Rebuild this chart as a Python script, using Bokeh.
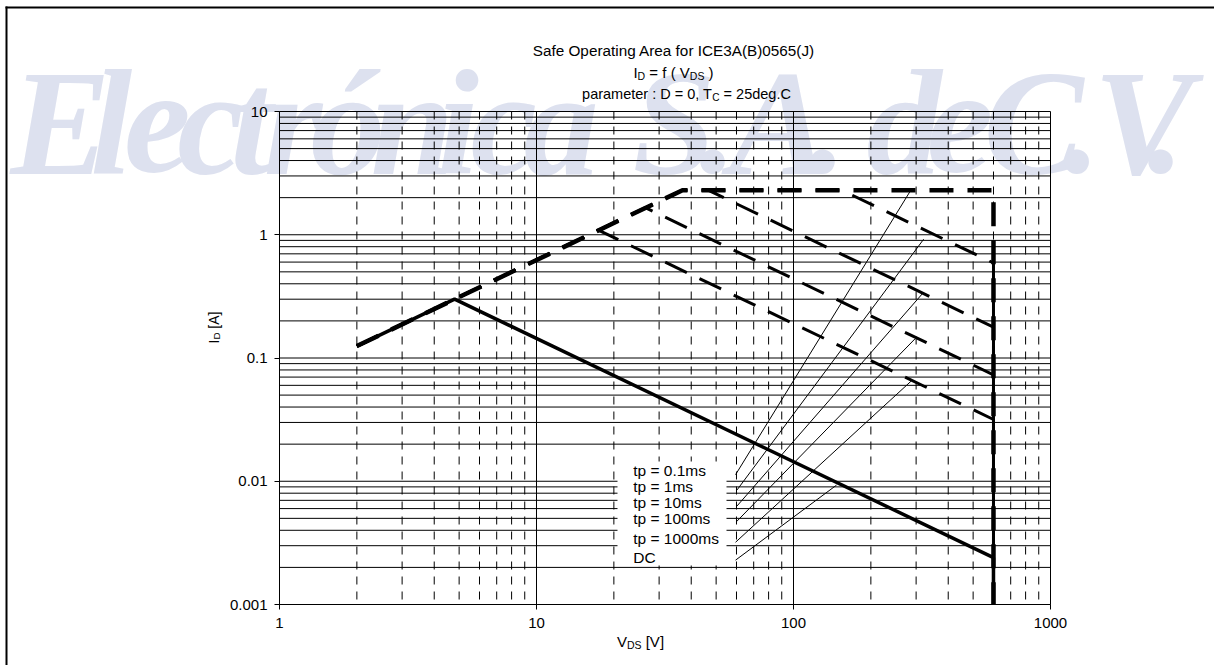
import math
from bokeh.plotting import figure
from bokeh.models import FixedTicker, Label, PrintfTickFormatter
from bokeh.embed import file_html
from bokeh.resources import INLINE

# ---------------- data ----------------
x_major = [1, 10, 100, 1000]
x_minor = [m * d for d in (1, 10, 100) for m in range(2, 10)]
y_major = [0.001, 0.01, 0.1, 1, 10]
y_minor = [m * d for d in (0.001, 0.01, 0.1, 1) for m in range(2, 10)]
x_tick_labels = ["1", "10", "100", "1000"]
y_tick_labels = ["0.001", "0.01", "0.1", "1", "10"]

# SOA boundaries (V_DS in V, I_D in A)
v_tp01 = [2, 37, 600, 600]
i_tp01 = [0.125, 2.3, 2.3, 0.001]
v_tp1 = [2, 37, 154, 600, 600]
i_tp1 = [0.125, 2.3, 2.3, 0.59, 0.001]
v_tp10 = [2, 37, 46.5, 600, 600]
i_tp10 = [0.125, 2.3, 2.3, 0.178, 0.001]
v_tp100 = [2, 26.5, 600, 600]
i_tp100 = [0.125, 1.66, 0.073, 0.001]
v_tp1000 = [2, 17.4, 600, 600]
i_tp1000 = [0.125, 1.09, 0.0317, 0.001]
v_dc = [2, 4.8, 600, 600]
i_dc = [0.125, 0.3, 0.0024, 0.001]

# curve labels and their pointer lines
curve_labels = ["tp = 0.1ms", "tp = 1ms", "tp = 10ms", "tp = 100ms", "tp = 1000ms", "DC"]
ptr_v0 = [59.5, 60.3, 60.3, 60, 59.5, 59.5]
ptr_i0 = [0.0113, 0.0085, 0.0063, 0.0047, 0.0032, 0.00229]
ptr_v1 = [285, 321, 318, 297, 287, 147]
ptr_i1 = [2.27, 0.92, 0.334, 0.143, 0.065, 0.0093]

watermark_words = ["Electrónica", "S.A.", "de", "C.V."]

# ---------------- layout helpers (page pixels -> data) ----------------
W, H = 1214, 665
FL, FR, FT, FB = 279, 1050, 111, 604   # where 1..1000 V and 10..0.001 A sit


def dx(px):
    return 10 ** ((px - FL) / (FR - FL) * 3)


def dy(py):
    return 10 ** (1 - (py - FT) / (FB - FT) * 4)


ARIAL = {" ": 278, "(": 333, ")": 333, ",": 278, ".": 278, ":": 278, "=": 584,
         "[": 278, "]": 278, "A": 667, "C": 722, "D": 722, "I": 278, "S": 667,
         "T": 611, "V": 667, "a": 556, "d": 556, "e": 556, "f": 278, "g": 556,
         "m": 833, "p": 556, "r": 333, "t": 278}


def tw(s, size):
    return sum(ARIAL.get(c, 556) for c in s) / 1000.0 * size


FONT = "Liberation Sans"

p = figure(width=W, height=H, x_axis_type="log", y_axis_type="log",
           x_range=(dx(0), dx(W)), y_range=(dy(H), dy(0)),
           output_backend="svg", toolbar_location=None, title=None,
           min_border=0)
p.background_fill_color = "white"
p.border_fill_color = "white"
p.outline_line_color = None
p.xgrid.visible = False
p.ygrid.visible = False

# axes, placed on the chart's own edges
p.xaxis.ticker = FixedTicker(ticks=x_major, minor_ticks=x_minor)
p.yaxis.ticker = FixedTicker(ticks=y_major, minor_ticks=y_minor)
p.xaxis.formatter = PrintfTickFormatter(format="%g")
p.yaxis.formatter = PrintfTickFormatter(format="%g")
p.xaxis.major_label_overrides = {v: s for v, s in zip(x_major, x_tick_labels)}
p.yaxis.major_label_overrides = {v: s for v, s in zip(y_major, y_tick_labels)}
p.xaxis.fixed_location = y_major[0]
p.xaxis.bounds = (x_major[0], x_major[-1])
p.yaxis.fixed_location = x_major[0]
p.yaxis.bounds = (y_major[0], y_major[-1])
for ax in (p.xaxis[0], p.yaxis[0]):
    ax.axis_line_color = "black"
    ax.major_tick_line_color = "black"
    ax.major_tick_out = 5
    ax.major_tick_in = 0
    ax.minor_tick_line_color = None
    ax.major_label_text_font = FONT
    ax.major_label_text_font_size = "15px"
    ax.major_label_text_color = "black"
p.yaxis.major_label_standoff = 7
p.xaxis.major_label_standoff = 8

# watermark (per-character, light lavender, behind everything)
TIMES_BI = {"E": 667, "l": 278, "e": 444, "c": 444, "t": 278, "r": 389, "ó": 500,
            "n": 556, "i": 278, "a": 500, "S": 556, ".": 250, "A": 667, "d": 500,
            "C": 667, "V": 667}
wm_starts = [10, 632, 866, 983]
wm_em = 120
wm_size = 150
wm_mid = 122
for word, x0 in zip(watermark_words, wm_starts):
    x = x0
    prev = ""
    for ch in word:
        if prev == "V" and ch == ".":
            x -= 0.22 * wm_em
        p.add_layout(Label(x=dx(x), y=dy(wm_mid), text=ch, text_font="Liberation Serif",
                           text_font_style="bold italic", text_font_size=f"{wm_size}px",
                           text_color="#dde1ef", text_baseline="middle",
                           text_align="left", level="image"))
        x += TIMES_BI[ch] / 1000.0 * wm_em
        prev = ch

# page frame lines (top and left)
p.segment(x0=[dx(5), dx(6)], y0=[dy(7), dy(6)], x1=[dx(W), dx(6)], y1=[dy(7), dy(H)],
          line_color="black", line_width=2)

# grid lines
y_all = sorted(y_major + y_minor)
p.segment(x0=x_minor, y0=[y_major[-1]] * len(x_minor), x1=x_minor, y1=[y_major[0]] * len(x_minor),
          line_color="black", line_width=1, line_dash="8 7")
p.segment(x0=[x_major[0]] * len(y_all), y0=y_all, x1=[x_major[-1]] * len(y_all), y1=y_all,
          line_color="black", line_width=1)
p.segment(x0=x_major, y0=[y_major[0]] * len(x_major), x1=x_major, y1=[y_major[-1]] * len(x_major),
          line_color="black", line_width=1)

# white box behind the curve labels
p.quad(left=[dx(617)], right=[dx(726)], top=[dy(461)], bottom=[dy(565)],
       fill_color="white", line_color=None)

# SOA curves
dash_curves = [(v_tp1, i_tp1), (v_tp10, i_tp10), (v_tp100, i_tp100), (v_tp1000, i_tp1000)]
for vv, ii in dash_curves:
    p.line(vv, ii, line_color="black", line_width=3, line_dash="24 14")
p.line(v_tp01, i_tp01, line_color="black", line_width=4.5, line_dash="24 14")
p.line(v_dc, i_dc, line_color="black", line_width=3.5)

# pointer lines
p.segment(x0=ptr_v0, y0=ptr_i0, x1=ptr_v1, y1=ptr_i1, line_color="black", line_width=1)


# ---------------- texts ----------------
def put(text, px, py, size, angle=0.0):
    p.add_layout(Label(x=dx(px), y=dy(py), text=text, text_font=FONT,
                       text_font_size=f"{size}px", text_color="black",
                       text_baseline="middle", text_align="left", angle=angle))


SUB = 0.7


def rich(parts, cx, cy, size, rotate=False):
    total = sum(tw(t, size * SUB if s else size) for t, s in parts)
    pos = (cx - total / 2) if not rotate else (cy + total / 2)
    for t, s in parts:
        fs = size * SUB if s else size
        lead = len(t) - len(t.lstrip(" "))
        core = t.strip(" ")
        trail = len(t.lstrip(" ")) - len(core)
        step0 = tw(" " * lead, fs)
        off = 0.23 * size if s else 0
        if not rotate:
            pos += step0
            put(core, pos, cy + off, round(fs, 1))
            pos += tw(core, fs) + tw(" " * trail, fs)
        else:
            pos -= step0
            put(core, cx + off, pos, round(fs, 1), angle=math.pi / 2)
            pos -= tw(core, fs) + tw(" " * trail, fs)


rich([("Safe Operating Area for ICE3A(B)0565(J)", False)], 673, 50, 15.3)
rich([("I", False), ("D", True), (" = f ( V", False), ("DS", True), (" )", False)], 673, 71.7, 15)
rich([("parameter : D = 0, T", False), ("C", True), (" = 25deg.C", False)], 686, 93.3, 14.5)
rich([("V", False), ("DS", True), (" [V]", False)], 640, 641, 15)
rich([("I", False), ("D", True), (" [A]", False)], 213, 327, 14, rotate=True)

label_y = [470, 485.7, 501.7, 517.7, 538.3, 557.3]
for txt, cy in zip(curve_labels, label_y):
    put(txt, 632.7, cy, 15.5)

open("out.html", "w").write(file_html(p, INLINE))
